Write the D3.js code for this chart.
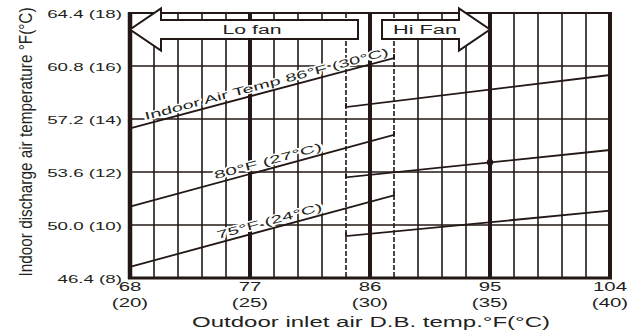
<!DOCTYPE html>
<html>
<head>
<meta charset="utf-8">
<script src="https://cdn.jsdelivr.net/npm/d3@7"></script>
<style>
  body { margin: 0; background: #fff; }
  text { font-family: "Liberation Sans", Arial, sans-serif; fill: #231f20; }
</style>
</head>
<body>
<svg id="chart" width="632" height="331"></svg>
<script>
// Outdoor inlet air temperature axis (°C values, °F labels)
const xTicksC = [20, 25, 30, 35, 40];
const xTickF = ["68", "77", "86", "95", "104"];
// Indoor discharge air temperature axis (°C values, °F labels)
const yTicksC = [8, 10, 12, 14, 16, 18];
const yTickF = ["46.4", "50.0", "53.6", "57.2", "60.8", "64.4"];

// Fan switch-over band (dashed boundaries), °C
const dashedC = [29, 31];

// Discharge temperature per indoor air temperature, [outdoor °C, discharge °C]
const loFan86 = [[20, 13.65], [31, 16.30]];
const loFan80 = [[20, 10.69], [31, 13.40]];
const loFan75 = [[20, 8.42], [31, 11.12]];
const hiFan86 = [[29, 14.45], [40, 15.66]];
const hiFan80 = [[29, 11.80], [40, 12.83]];
const hiFan75 = [[29, 9.58], [40, 10.54]];
const ratedPoint = [[35, 12.37]];

const lineLabels = ["Indoor Air Temp 86°F (30°C)", "80°F (27°C)", "75°F (24°C)"];
const labelStartC = [20.7, 23.6, 23.7];

// Fan speed ranges: arrow runs from "from" toward "to" (°C)
const fanNames = ["Lo fan", "Hi Fan"];
const fanFrom = [29.5, 30.5];
const fanTo = [20, 35];

const ink = "#231815";
const svg = d3.select("#chart");
const x = d3.scaleLinear().domain([20, 40]).range([130, 610]);
const y = d3.scaleLinear().domain([8, 18]).range([278, 13]);

const grid = svg.append("g");

// thin vertical grid every 1 °C
const minorC = d3.range(21, 40).filter(v => !dashedC.includes(v) && !xTicksC.includes(v));
grid.selectAll("line.vminor").data(minorC).join("line")
  .attr("x1", d => x(d)).attr("x2", d => x(d))
  .attr("y1", y(18)).attr("y2", y(8))
  .attr("stroke", ink).attr("stroke-width", 1.6);

// dashed fan change-over boundaries
grid.selectAll("line.vdash").data(dashedC).join("line")
  .attr("x1", d => x(d)).attr("x2", d => x(d))
  .attr("y1", y(18)).attr("y2", y(8))
  .attr("stroke", ink).attr("stroke-width", 1.6)
  .attr("stroke-dasharray", "5,2");

// horizontal grid
grid.selectAll("line.h").data(yTicksC.slice(1, -1)).join("line")
  .attr("x1", x(20)).attr("x2", x(40))
  .attr("y1", d => y(d)).attr("y2", d => y(d))
  .attr("stroke", ink).attr("stroke-width", 1.6);

// top and bottom frame
grid.append("line").attr("x1", x(20)).attr("x2", x(40)).attr("y1", y(18)).attr("y2", y(18))
  .attr("stroke", ink).attr("stroke-width", 2);
grid.append("line").attr("x1", x(20) - 2).attr("x2", x(40) + 2).attr("y1", y(8)).attr("y2", y(8))
  .attr("stroke", ink).attr("stroke-width", 3);

// heavy vertical lines at labelled ticks
grid.selectAll("line.vmajor").data(xTicksC).join("line")
  .attr("x1", d => x(d)).attr("x2", d => x(d))
  .attr("y1", y(18) - 1).attr("y2", y(8) + 1)
  .attr("stroke", ink).attr("stroke-width", (d, i) => i === 0 ? 4.5 : 4);

// fan range arrows
const bandTop = y(18) + 7, bandBot = y(18) + 26, bandMid = (bandTop + bandBot) / 2;
const headLen = 31, headHalf = 21;
fanNames.forEach((name, i) => {
  const x0 = x(fanFrom[i]), tip = x(fanTo[i]);
  const dir = Math.sign(tip - x0);
  const base = tip - dir * headLen;
  const pts = [[x0, bandTop], [base, bandTop], [base, bandMid - headHalf], [tip, bandMid],
               [base, bandMid + headHalf], [base, bandBot], [x0, bandBot]];
  svg.append("path")
    .attr("d", d3.line()(pts) + "Z")
    .attr("fill", "#fff").attr("stroke", ink).attr("stroke-width", 2)
    .attr("stroke-linejoin", "miter");
  const cx = (x0 + base) / 2;
  svg.append("text")
    .attr("x", i === 0 ? 252 : 425).attr("y", bandMid + 4.5)
    .attr("text-anchor", "middle").attr("font-size", 12)
    .attr("textLength", i === 0 ? 59 : 64).attr("lengthAdjust", "spacingAndGlyphs")
    .text(name);
});

// labels along the Lo fan lines
const loLines = [loFan86, loFan80, loFan75];
const labelLen = [252, 111, 109];
loLines.forEach((ln, i) => {
  const [a, b] = ln;
  const px0 = x(a[0]), py0 = y(a[1]), px1 = x(b[0]), py1 = y(b[1]);
  const ang = Math.atan2(py1 - py0, px1 - px0) * 180 / Math.PI;
  const t = (labelStartC[i] - a[0]) / (b[0] - a[0]);
  const sx = x(labelStartC[i]);
  const sy = py0 + t * (py1 - py0);
  svg.append("text")
    .attr("transform", `translate(${sx},${sy}) rotate(${ang})`)
    .attr("y", -4)
    .attr("font-size", 11)
    .attr("textLength", labelLen[i]).attr("lengthAdjust", "spacingAndGlyphs")
    .attr("stroke", "#fff").attr("stroke-width", 3).attr("paint-order", "stroke")
    .attr("stroke-linejoin", "round")
    .text(lineLabels[i]);
});

// discharge temperature lines; short riser where they meet the dashed boundary
const lineGen = d3.line();
loLines.forEach(ln => {
  const pts = ln.map(p => [x(p[0]), y(p[1])]);
  const end = pts[pts.length - 1];
  pts.push([end[0], end[1] - 4]);
  svg.append("path").attr("d", lineGen(pts)).attr("fill", "none")
    .attr("stroke", ink).attr("stroke-width", 1.8);
});
[hiFan86, hiFan80, hiFan75].forEach(ln => {
  const pts = ln.map(p => [x(p[0]), y(p[1])]);
  pts.unshift([pts[0][0], pts[0][1] - 4]);
  svg.append("path").attr("d", lineGen(pts)).attr("fill", "none")
    .attr("stroke", ink).attr("stroke-width", 1.8);
});

svg.selectAll("circle.rated").data(ratedPoint).join("circle")
  .attr("cx", d => x(d[0])).attr("cy", d => y(d[1])).attr("r", 3.2).attr("fill", ink);

// y tick labels
svg.selectAll("text.ytick").data(yTicksC).join("text")
  .attr("x", 122).attr("y", d => y(d) + 5)
  .attr("text-anchor", "end").attr("font-size", 11)
  .text((d, i) => `${yTickF[i]} (${d})`)
  .each(function () {
    d3.select(this).attr("textLength", this.getComputedTextLength() * 1.7)
      .attr("lengthAdjust", "spacingAndGlyphs");
  });

// x tick labels
const xl = svg.append("g");
xl.selectAll("text.xf").data(xTicksC).join("text")
  .attr("x", d => x(d)).attr("y", 291).attr("text-anchor", "middle").attr("font-size", 12)
  .text((d, i) => xTickF[i])
  .each(function () {
    d3.select(this).attr("textLength", this.getComputedTextLength() * 1.7)
      .attr("lengthAdjust", "spacingAndGlyphs");
  });
xl.selectAll("text.xc").data(xTicksC).join("text")
  .attr("x", d => x(d)).attr("y", 307).attr("text-anchor", "middle").attr("font-size", 12)
  .text(d => `(${d})`)
  .each(function () {
    d3.select(this).attr("textLength", this.getComputedTextLength() * 1.7)
      .attr("lengthAdjust", "spacingAndGlyphs");
  });

// axis titles
svg.append("text")
  .attr("x", 371).attr("y", 327).attr("text-anchor", "middle").attr("font-size", 14)
  .attr("textLength", 358).attr("lengthAdjust", "spacingAndGlyphs")
  .text("Outdoor inlet air D.B. temp.°F(°C)");
svg.append("text")
  .attr("transform", "translate(26,142) scale(1.5,1) rotate(-90)")
  .attr("text-anchor", "middle").attr("dominant-baseline", "central").attr("font-size", 12)
  .attr("textLength", 269).attr("lengthAdjust", "spacingAndGlyphs")
  .text("Indoor discharge air temperature °F(°C)");
</script>
</body>
</html>
